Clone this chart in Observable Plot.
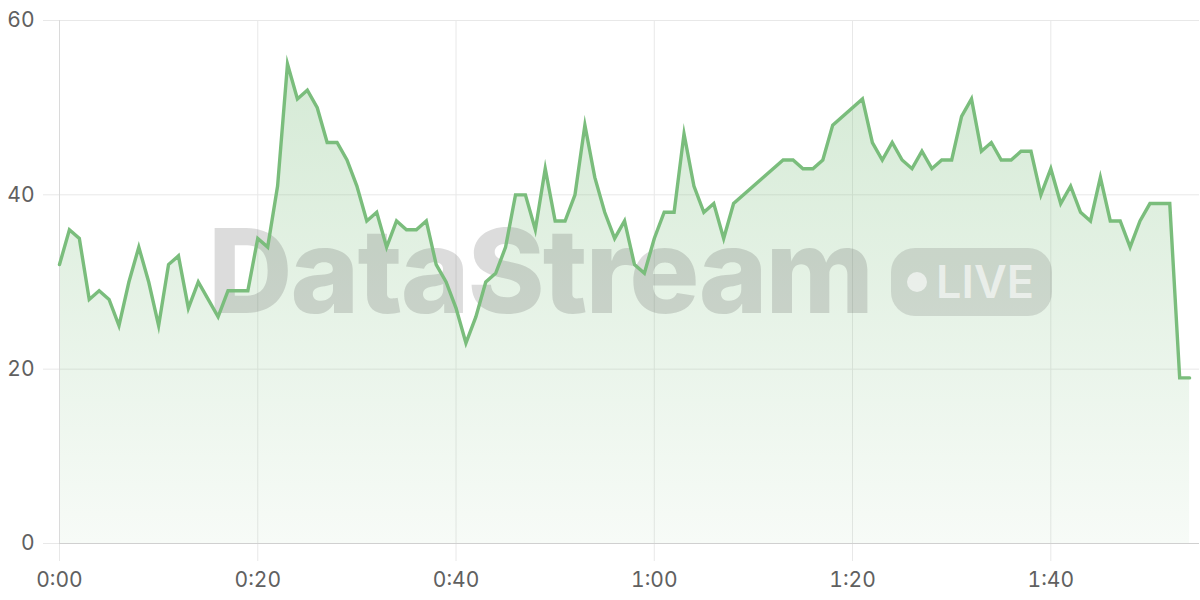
<!DOCTYPE html>
<html>
<head>
<meta charset="utf-8">
<script src="https://cdn.jsdelivr.net/npm/d3@7"></script>
<script src="https://cdn.jsdelivr.net/npm/@observablehq/plot@0.6"></script>
<style>
  html, body { margin: 0; padding: 0; background: #fff; }
  #chart { width: 1200px; height: 600px; }
</style>
</head>
<body>
<div id="chart"></div>
<script>
// elapsed seconds (some seconds have no sample)
const seconds = [
  0,1,2,3,4,5,6,7,8,9,10,11,12,13,14,15,16,17,18,19,
  20,21,22,23,24,25,26,27,28,29,30,31,32,33,34,35,36,37,38,39,
  40,41,42,43,44,45,46,47,48,49,50,51,52,53,54,55,56,57,58,59,
  60,61,62,63,64,65,66,67,68,
  73,74,75,76,77,78,
  81,82,83,84,85,86,87,88,89,90,91,92,93,94,95,96,97,98,99,
  100,101,102,103,104,105,106,107,108,109,110,111,112,113,114
];
const values = [
  32,36,35,28,29,28,25,30,34,30,25,32,33,27,30,28,26,29,29,29,
  35,34,41,55,51,52,50,46,46,44,41,37,38,34,37,36,36,37,32,30,
  27,23,26,30,31,34,40,40,36,43,37,37,40,48,42,38,35,37,32,31,
  35,38,38,47,41,38,39,35,39,
  44,44,43,43,44,48,
  51,46,44,46,44,43,45,43,44,44,49,51,45,46,44,44,45,45,40,
  43,39,41,38,37,42,37,37,34,37,39,39,39,19,19
];
const xTicks = [0, 20, 40, 60, 80, 100];
const yTicks = [0, 20, 40, 60];
const watermarkText = "DataStream";
const badgeText = "LIVE";

const data = seconds.map((s, i) => ({t: s, v: values[i]}));
const fmt = s => `${Math.floor(s / 60)}:${String(s % 60).padStart(2, "0")}`;

const lineColor = "#7abd7c";
const gridColor = "#e8e8e8";

const plot = Plot.plot({
  width: 1200,
  height: 600,
  marginLeft: 59,
  marginRight: 1,
  marginTop: 20,
  marginBottom: 57,
  style: {fontFamily: "Inter, 'Noto Sans', sans-serif", fontSize: "21px", color: "#606060", background: "transparent", overflow: "visible"},
  x: {domain: [0, 115]},
  y: {domain: [0, 60]},
  marks: [
    Plot.gridY(yTicks, {stroke: gridColor, strokeOpacity: 1}),
    Plot.gridX(xTicks, {stroke: gridColor, strokeOpacity: 1}),
    Plot.axisY(yTicks, {tickSize: 16, tickPadding: 9, stroke: gridColor, strokeOpacity: 1, fill: "#606060", label: null}),
    Plot.axisX(xTicks, {tickSize: 18, tickPadding: 11, stroke: gridColor, strokeOpacity: 1, fill: "#606060", tickFormat: fmt, label: null}),
    Plot.areaY(data, {x: "t", y: "v", fill: "url(#areaGrad)", curve: "linear"}),
    Plot.ruleY([0], {stroke: "#d0d0d0"}),
    Plot.ruleX([0], {stroke: "#dadada"}),
    Plot.lineY(data, {x: "t", y: "v", stroke: lineColor, strokeWidth: 3.4, strokeLinejoin: "miter", strokeMiterlimit: 10, curve: "linear"})
  ]
});

const svg = d3.select(plot);
const defs = svg.insert("defs", ":first-child");
const grad = defs.append("linearGradient")
  .attr("id", "areaGrad")
  .attr("gradientUnits", "userSpaceOnUse")
  .attr("x1", 0).attr("x2", 0).attr("y1", 60).attr("y2", 543);
grad.append("stop").attr("offset", "0%").attr("stop-color", "#7abd7c").attr("stop-opacity", 0.32);
grad.append("stop").attr("offset", "100%").attr("stop-color", "#7abd7c").attr("stop-opacity", 0.06);

// watermark (decoration), above the area and below the line
const wm = svg.insert("g", "g[aria-label='rule']").attr("class", "watermark").attr("text-anchor", "start");
wm.append("text")
  .attr("x", 208).attr("y", 313)
  .attr("text-anchor", "start")
  .attr("font-family", "Inter, 'Noto Sans', sans-serif")
  .attr("font-weight", 800)
  .attr("font-size", 117)
  .attr("letter-spacing", -2)
  .attr("fill", "rgba(80,80,80,0.2)")
  .text(watermarkText);
wm.append("rect")
  .attr("x", 891).attr("y", 248).attr("width", 161).attr("height", 68).attr("rx", 24)
  .attr("fill", "rgba(80,80,80,0.17)");
wm.append("circle").attr("cx", 917).attr("cy", 282).attr("r", 10).attr("fill", "rgba(255,255,255,0.6)");
wm.append("text")
  .attr("x", 936).attr("y", 298)
  .attr("text-anchor", "start")
  .attr("font-family", "Inter, 'Noto Sans', sans-serif")
  .attr("font-weight", 600)
  .attr("font-size", 45)
  .attr("fill", "rgba(255,255,255,0.6)")
  .text(badgeText);

document.getElementById("chart").appendChild(plot);
</script>
</body>
</html>
